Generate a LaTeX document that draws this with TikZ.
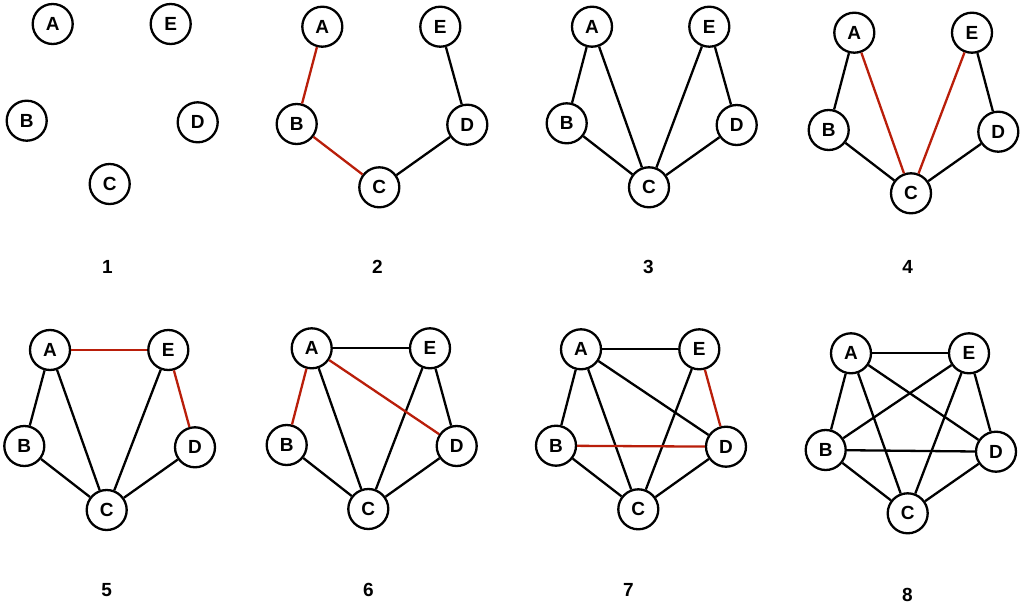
\documentclass[tikz,border=0pt]{standalone}
\usepackage{fontspec}
\setmainfont{Liberation Sans}
\definecolor{edgered}{RGB}{185,30,10}
\begin{document}
\begin{tikzpicture}[x=1pt,y=-1pt,
  vtx/.style={circle,draw=black,line width=2.3pt,fill=white,minimum size=40pt,inner sep=0pt,font=\fontsize{19}{19}\selectfont\bfseries},
  lbl/.style={font=\fontsize{19}{19}\selectfont\bfseries},
  edge/.style={line width=2.3pt,black},
  redge/.style={line width=2.3pt,edgered}]
\useasboundingbox (0,0) rectangle (1023,613);
% Panel 1
\node[vtx] (a1) at (52.7,24) {A};
\node[vtx] (e1) at (170.7,24) {E};
\node[vtx] (b1) at (26.7,120.7) {B};
\node[vtx] (d1) at (197.7,122.3) {D};
\node[vtx] (c1) at (109.7,184) {C};
\node[lbl] (l1) at (107.3,266.7) {1};
% Panel 2
\node[vtx] (a2) at (322.3,26.7) {A};
\node[vtx] (e2) at (440.3,26.7) {E};
\node[vtx] (b2) at (296.7,124) {B};
\node[vtx] (d2) at (467.3,124.7) {D};
\node[vtx] (c2) at (379.3,187.3) {C};
\node[lbl] (l2) at (377.3,266.7) {2};
\draw[redge] (a2) -- (b2);
\draw[redge] (b2) -- (c2);
\draw[edge] (e2) -- (d2);
\draw[edge] (d2) -- (c2);
% Panel 3
\node[vtx] (a3) at (592,26.7) {A};
\node[vtx] (e3) at (709.3,26.7) {E};
\node[vtx] (b3) at (566.7,123.3) {B};
\node[vtx] (d3) at (736.7,125) {D};
\node[vtx] (c3) at (649,187.3) {C};
\node[lbl] (l3) at (648.3,266.7) {3};
\draw[edge] (a3) -- (b3);
\draw[edge] (a3) -- (c3);
\draw[edge] (b3) -- (c3);
\draw[edge] (e3) -- (c3);
\draw[edge] (e3) -- (d3);
\draw[edge] (d3) -- (c3);
% Panel 4
\node[vtx] (a4) at (854.3,32.7) {A};
\node[vtx] (e4) at (972,32.7) {E};
\node[vtx] (b4) at (828.7,130) {B};
\node[vtx] (d4) at (998.3,131.7) {D};
\node[vtx] (c4) at (911,193.3) {C};
\node[lbl] (l4) at (907.7,266.7) {4};
\draw[edge] (a4) -- (b4);
\draw[redge] (a4) -- (c4);
\draw[edge] (b4) -- (c4);
\draw[redge] (e4) -- (c4);
\draw[edge] (e4) -- (d4);
\draw[edge] (d4) -- (c4);
% Panel 5
\node[vtx] (a5) at (50,350) {A};
\node[vtx] (e5) at (168.3,350) {E};
\node[vtx] (b5) at (24.3,446) {B};
\node[vtx] (d5) at (195,447.3) {D};
\node[vtx] (c5) at (106.7,510) {C};
\node[lbl] (l5) at (106.7,590) {5};
\draw[redge] (a5) -- (e5);
\draw[redge] (e5) -- (d5);
\draw[edge] (a5) -- (b5);
\draw[edge] (a5) -- (c5);
\draw[edge] (b5) -- (c5);
\draw[edge] (e5) -- (c5);
\draw[edge] (d5) -- (c5);
% Panel 6
\node[vtx] (a6) at (311.7,348.3) {A};
\node[vtx] (e6) at (430,348.3) {E};
\node[vtx] (b6) at (286.7,445) {B};
\node[vtx] (d6) at (456.7,446) {D};
\node[vtx] (c6) at (368.3,509) {C};
\node[lbl] (l6) at (368.3,590) {6};
\draw[redge] (a6) -- (b6);
\draw[edge] (a6) -- (e6);
\draw[edge] (a6) -- (c6);
\draw[edge] (b6) -- (c6);
\draw[edge] (e6) -- (c6);
\draw[edge] (e6) -- (d6);
\draw[edge] (d6) -- (c6);
\draw[redge] (a6) -- (d6);
% Panel 7
\node[vtx] (a7) at (581,349.3) {A};
\node[vtx] (e7) at (699.3,349.3) {E};
\node[vtx] (b7) at (556,445.7) {B};
\node[vtx] (d7) at (726,446.7) {D};
\node[vtx] (c7) at (638.3,509.3) {C};
\node[lbl] (l7) at (628.3,590) {7};
\draw[edge] (a7) -- (e7);
\draw[edge] (a7) -- (b7);
\draw[edge] (a7) -- (c7);
\draw[edge] (a7) -- (d7);
\draw[edge] (b7) -- (c7);
\draw[edge] (e7) -- (c7);
\draw[edge] (d7) -- (c7);
\draw[redge] (e7) -- (d7);
\draw[redge] (b7) -- (d7);
% Panel 8
\node[vtx] (a8) at (851,353.3) {A};
\node[vtx] (e8) at (969,353.3) {E};
\node[vtx] (b8) at (825.7,450) {B};
\node[vtx] (d8) at (996,451.7) {D};
\node[vtx] (c8) at (907.7,513.3) {C};
\node[lbl] (l8) at (907.3,595) {8};
\draw[edge] (a8) -- (e8);
\draw[edge] (a8) -- (b8);
\draw[edge] (a8) -- (c8);
\draw[edge] (a8) -- (d8);
\draw[edge] (b8) -- (e8);
\draw[edge] (b8) -- (d8);
\draw[edge] (b8) -- (c8);
\draw[edge] (e8) -- (c8);
\draw[edge] (e8) -- (d8);
\draw[edge] (d8) -- (c8);
\end{tikzpicture}
\end{document}
